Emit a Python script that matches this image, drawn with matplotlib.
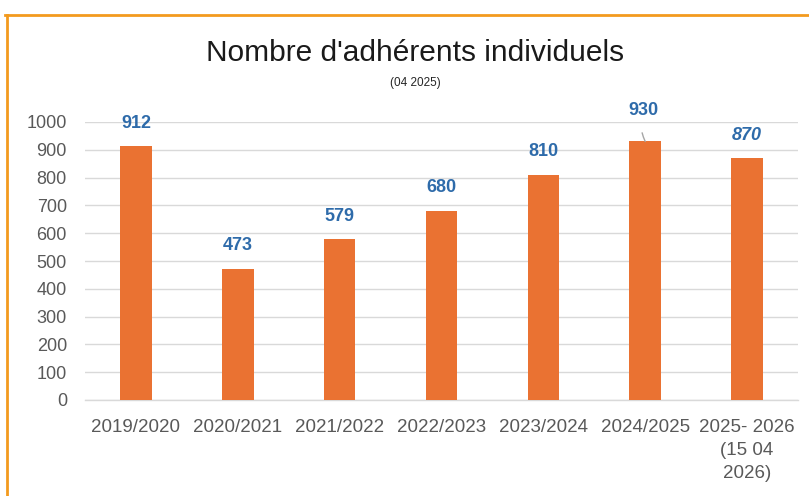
import matplotlib
matplotlib.use("Agg")
import matplotlib.pyplot as plt
from matplotlib.lines import Line2D

categories = ["2019/2020", "2020/2021", "2021/2022", "2022/2023", "2023/2024", "2024/2025", "2025- 2026\n(15 04\n2026)"]
values = [912, 473, 579, 680, 810, 930, 870]
yticks = [0, 100, 200, 300, 400, 500, 600, 700, 800, 900, 1000]

plt.rcParams['font.family'] = ['Liberation Sans', 'DejaVu Sans']

W, H = 809, 496
fig = plt.figure(figsize=(W/100, H/100), dpi=100)
ax = fig.add_axes([85/W, 1-400/H, (798-85)/W, (400-122)/H])

x = list(range(len(categories)))
ax.bar(x, values, width=0.31, color="#EA7232", zorder=3)
ax.set_xlim(-0.5, len(categories)-0.5)
ax.set_ylim(0, 1000)
ax.set_yticks(yticks)
ax.set_xticks(x)
ax.set_xticklabels(categories, fontsize=13.5, color="#595959", linespacing=1.45)
ax.tick_params(axis='y', labelsize=13, labelcolor="#595959", length=0, pad=13)
ax.tick_params(axis='x', length=0, pad=14)
ax.grid(axis='y', color="#D9D9D9", linewidth=1, zorder=0)
for s in ['top', 'right', 'left']:
    ax.spines[s].set_visible(False)
ax.spines['bottom'].set_color("#D9D9D9")
ax.spines['bottom'].set_linewidth(1)

for i, v in enumerate(values):
    style = 'italic' if i == len(values)-1 else 'normal'
    if i == 5:
        ax.annotate(str(v), xy=(i, v), xytext=(-2, 31), textcoords='offset pixels',
                    ha='center', va='center', fontsize=13, fontweight='bold', color="#2E6BAA",
                    arrowprops=dict(arrowstyle='-', color="#A6A6A6", lw=1, shrinkA=8, shrinkB=0,
                                    connectionstyle="arc3,rad=0.2"))
    else:
        ax.annotate(str(v), xy=(i, v), xytext=(0, 23), textcoords='offset pixels',
                    ha='center', va='center', fontsize=13, fontweight='bold', color="#2E6BAA",
                    fontstyle=style)

fig.text(415/W, 1-53/H, "Nombre d'adhérents individuels", ha='center', va='center', fontsize=21.5, color="#1A1A1A")
fig.text(415/W, 1-83/H, "(04 2025)", ha='center', va='center', fontsize=8.5, color="#262626")

# orange frame
fig.add_artist(Line2D([5/W, 1], [1-15/H, 1-15/H], color="#F39A1E", lw=2, transform=fig.transFigure))
fig.add_artist(Line2D([7/W, 7/W], [1-15/H, 0], color="#F39A1E", lw=2, transform=fig.transFigure))

fig.savefig("out.png", dpi=100)
